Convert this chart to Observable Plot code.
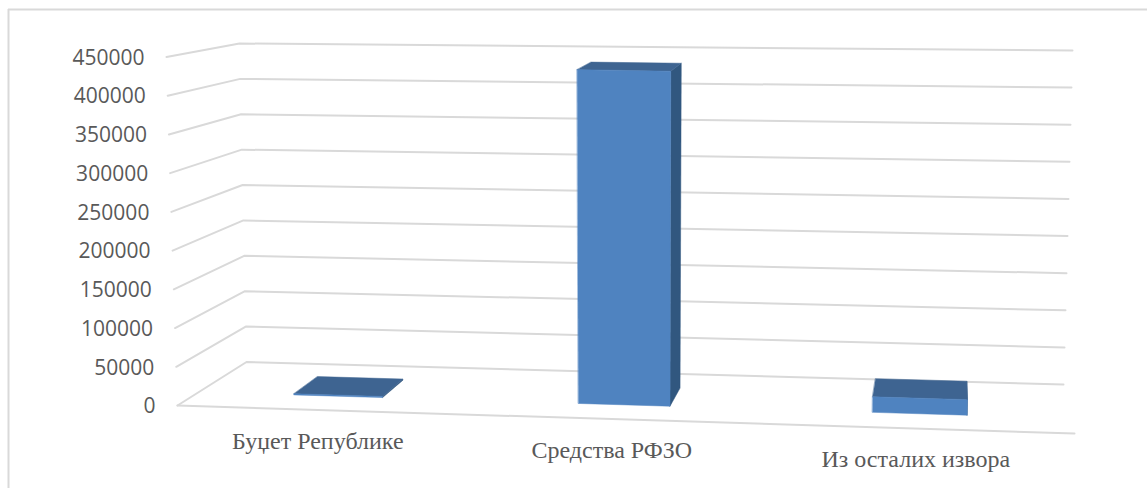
<!DOCTYPE html>
<html>
<head>
<meta charset="utf-8">
<script src="https://cdn.jsdelivr.net/npm/d3@7"></script>
<script src="https://cdn.jsdelivr.net/npm/@observablehq/plot@0.6"></script>
<style>html,body{margin:0;padding:0;background:#fff}svg{display:block}</style>
</head>
<body>
<div id="chart"></div>
<script>
const categories = ["Буџет Републике", "Средства РФЗО", "Из осталих извора"];
const values = [1500, 436500, 20000];
const valueTicks = [0, 50000, 100000, 150000, 200000, 250000, 300000, 350000, 400000, 450000];

// Perspective box: projected corners of the 3D plot volume, [across, depth, level]
const maxValue = 450000;
const corners = {
  "000": [177, 405], "100": [1074, 433], "010": [246, 361.5], "110": [1063, 384],
  "001": [166, 56.5], "101": [1084, 75], "011": [239, 43], "111": [1072, 50]
};
function project(u, d, v) {
  const w = v / maxValue;
  const p = [0, 0];
  for (const a of [0, 1]) for (const b of [0, 1]) for (const c of [0, 1]) {
    const k = (a ? u : 1 - u) * (b ? d : 1 - d) * (c ? w : 1 - w);
    const q = corners[`${a}${b}${c}`];
    p[0] += k * q[0];
    p[1] += k * q[1];
  }
  return p;
}
const warp = t => t - 0.05 * t * (1 - t);
const halfBar = 0.0525, depthFront = 0.31, depthBack = 0.70;

const pt = (t, d, v, id) => { const [x, y] = project(warp(t), d, v); return {x, y, id}; };

const grid = valueTicks.flatMap(v => [pt(0, 0, v, v), pt(0, 1, v, v), pt(1, 1, v, v)]);
const floorFront = [pt(0, 0, 0, "f"), pt(1, 0, 0, "f")];

const frontFaces = [], topFaces = [], sideFaces = [];
categories.forEach((c, i) => {
  const t = (i + 0.5) / categories.length, l = t - halfBar, r = t + halfBar, v = values[i];
  frontFaces.push(pt(l, depthFront, 0, i), pt(r, depthFront, 0, i), pt(r, depthFront, v, i), pt(l, depthFront, v, i));
  topFaces.push(pt(l, depthFront, v, i), pt(r, depthFront, v, i), pt(r, depthBack, v, i), pt(l, depthBack, v, i));
  sideFaces.push(pt(r, depthFront, 0, i), pt(r, depthBack, 0, i), pt(r, depthBack, v, i), pt(r, depthFront, v, i));
});

const tickRows = valueTicks.map(v => ({...pt(0, 0, v, v), label: String(v)}));
const catRows = categories.map((c, i) => ({...pt((i + 0.5) / categories.length, 0, 0, i), label: c}));

const xy = {x: "x", y: "y", z: "id"};
const face = (data, color) => Plot.line(data, {...xy, fill: color, stroke: color, strokeWidth: 0.5, curve: "linear-closed"});

const chart = Plot.plot({
  width: 1147, height: 488,
  marginTop: 0, marginRight: 0, marginBottom: 0, marginLeft: 0,
  x: {domain: [0, 1147], range: [0, 1147], axis: null},
  y: {domain: [0, 488], range: [0, 488], axis: null},
  marks: [
    Plot.ruleY([9], {x1: 8, x2: 1147, stroke: "#d9d9d9", strokeWidth: 2}),
    Plot.ruleX([8], {y1: 9, y2: 488, stroke: "#d9d9d9", strokeWidth: 2}),
    Plot.line(grid, {...xy, stroke: "#d9d9d9", strokeWidth: 2}),
    Plot.line(floorFront, {...xy, stroke: "#d9d9d9", strokeWidth: 2}),
    face(sideFaces, "#31577f"),
    face(topFaces, "#3e6491"),
    face(frontFaces, "#4f83c0"),
    Plot.text(tickRows, {x: "x", y: "y", text: "label", textAnchor: "end", dx: -22, dy: 1, fontFamily: "Open Sans", fontSize: 21, fill: "#595959"}),
    Plot.text(catRows, {x: "x", y: "y", text: "label", dx: -3, dy: 31, fontFamily: "Liberation Serif", fontSize: 24, fill: "#595959"})
  ]
});
document.getElementById("chart").append(chart);
</script>
</body>
</html>
